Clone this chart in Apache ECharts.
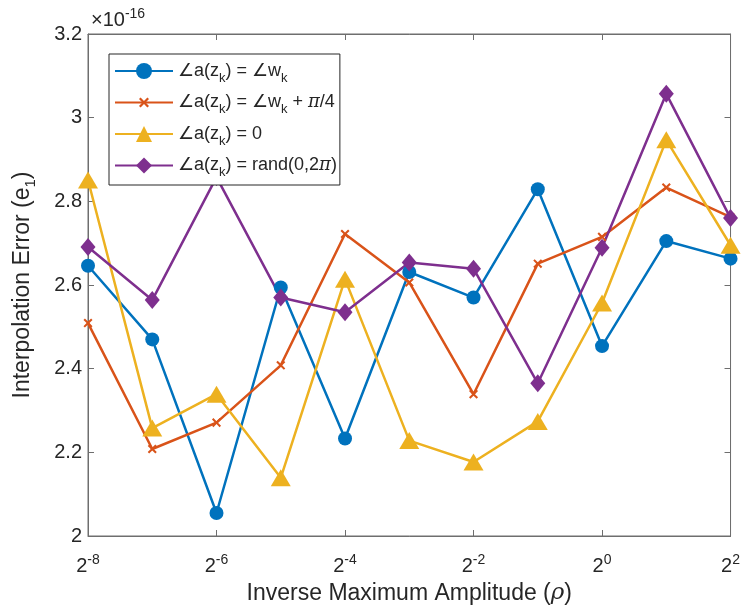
<!DOCTYPE html>
<html><head><meta charset="utf-8">
<script src="https://cdn.jsdelivr.net/npm/echarts@6/dist/echarts.min.js"></script>
<style>html,body{margin:0;padding:0;background:#fff}#c{width:743px;height:610px}</style>
</head><body><div id="c"></div>
<script>
// x positions as base-2 exponents of rho
var rhoExp = [-8, -7, -6, -5, -4, -3, -2, -1, 0, 1, 2];
// values in units of 1e-16
var angleW = [2.646, 2.470, 2.055, 2.594, 2.233, 2.631, 2.570, 2.829, 2.454, 2.705, 2.663];
var angleWpi4 = [2.509, 2.208, 2.271, 2.408, 2.722, 2.606, 2.339, 2.651, 2.715, 2.833, 2.762];
var angleZero = [2.851, 2.258, 2.339, 2.139, 2.614, 2.228, 2.177, 2.274, 2.557, 2.947, 2.695];
var angleRand = [2.691, 2.564, 2.858, 2.570, 2.535, 2.654, 2.639, 2.365, 2.689, 3.057, 2.760];
var seriesNames = [
  '{t|∠a(z}{s|k}{t|) = ∠w}{s|k}',
  '{t|∠a(z}{s|k}{t|) = ∠w}{s|k}{t| + }{i|π}{t|/4}',
  '{t|∠a(z}{s|k}{t|) = 0}',
  '{t|∠a(z}{s|k}{t|) = rand(0,2}{i|π}{t|)}'
];
var xTicks = [-8, -6, -4, -2, 0, 2];

var names = ['s1','s2','s3','s4'];
function pairs(v){ return rhoExp.map(function(x,i){ return [x, v[i]]; }); }
var textCol = '#262626';
var axisCol = '#6e6e6e';
// X-shaped marker with empty margins so it stays small inside its box
var xPath = 'path://M-3,-3 L-3,-3 Z M13,13 L13,13 Z M0,1.6 L1.6,0 L5,3.4 L8.4,0 L10,1.6 L6.6,5 L10,8.4 L8.4,10 L5,6.6 L1.6,10 L0,8.4 L3.4,5 Z';

var chart = echarts.init(document.getElementById('c'), null, {renderer:'canvas'});
var fontFam = 'Liberation Sans, Arial, sans-serif';
var option = {
  backgroundColor: '#fff',
  animation: false,
  textStyle: {fontFamily: fontFam},
  grid: {left: 88, right: 8, top: 34, bottom: 74, show: true, borderColor: axisCol, borderWidth: 1},
  legend: {
    orient: 'vertical', left: 109, top: 54,
    data: names,
    formatter: function(n){ return seriesNames[names.indexOf(n)]; },
    backgroundColor: '#fff', borderColor: textCol, borderWidth: 1,
    padding: [8, 3, 6, 5], itemWidth: 58, itemHeight: 20, itemGap: 9,
    textStyle: {
      color: textCol, fontSize: 18,
      rich: {
        t: {fontSize: 18, color: textCol, fontFamily: fontFam},
        i: {fontSize: 18, color: textCol, fontStyle: 'italic', fontFamily: 'DejaVu Serif'},
        s: {fontSize: 13, color: textCol, fontFamily: fontFam, padding: [14, 0, 0, 0]}
      }
    }
  },
  xAxis: [{
    type: 'value', min: -8, max: 2, interval: 2, position: 'bottom',
    axisLine: {show: true, onZero: false, lineStyle: {color: axisCol}},
    axisTick: {show: true, inside: true, length: 6, lineStyle: {color: axisCol}},
    splitLine: {show: false},
    axisLabel: {
      margin: 17,
      formatter: function(v){ return '{b|2}{s|' + v + '}'; },
      rich: {
        b: {fontSize: 20, color: textCol, fontFamily: fontFam},
        s: {fontSize: 14, color: textCol, fontFamily: fontFam, padding: [0, 0, 12, 0]}
      }
    },
    name: '{t|Inverse Maximum Amplitude (}{i|ρ}{t|)}', nameLocation: 'middle', nameGap: 46,
    nameTextStyle: {rich: {
      t: {fontSize: 23, color: textCol, fontFamily: fontFam},
      i: {fontSize: 23, color: textCol, fontStyle: 'italic', fontFamily: 'DejaVu Serif'}
    }}
  }, {
    type: 'value', min: -8, max: 2, interval: 2, position: 'top',
    axisLine: {show: true, onZero: false, lineStyle: {color: axisCol}},
    axisTick: {show: true, inside: true, length: 6, lineStyle: {color: axisCol}},
    axisLabel: {show: false}, splitLine: {show: false}
  }],
  yAxis: [{
    type: 'value', min: 2, max: 3.2, interval: 0.2, position: 'left',
    axisLine: {show: true, onZero: false, lineStyle: {color: axisCol}},
    axisTick: {show: true, inside: true, length: 6, lineStyle: {color: axisCol}},
    splitLine: {show: false},
    axisLabel: {fontSize: 20, color: textCol, margin: 6, fontFamily: fontFam},
    name: '{t|Interpolation Error (e}{s|1}{t|)}', nameLocation: 'middle', nameRotate: 90, nameGap: 50,
    nameTextStyle: {rich: {
      t: {fontSize: 23, color: textCol, fontFamily: fontFam},
      s: {fontSize: 15, color: textCol, fontFamily: fontFam, padding: [16, 0, 0, 0]}
    }}
  }, {
    type: 'value', min: 2, max: 3.2, interval: 0.2, position: 'right',
    axisLine: {show: true, onZero: false, lineStyle: {color: axisCol}},
    axisTick: {show: true, inside: true, length: 6, lineStyle: {color: axisCol}},
    axisLabel: {show: false}, splitLine: {show: false}
  }],
  graphic: [{
    type: 'text', left: 91, top: 7,
    style: {
      text: '{b|×10}{s|-16}',
      rich: {
        b: {fontSize: 20, fill: textCol, fontFamily: fontFam},
        s: {fontSize: 14, fill: textCol, fontFamily: fontFam, padding: [0, 0, 12, 0]}
      }
    }
  }],
  series: [
    {name: 's1', type: 'line', data: pairs(angleW), color: '#0072BD',
     lineStyle: {width: 2.5}, symbol: 'circle', symbolSize: 14, showAllSymbol: true},
    {name: 's2', type: 'line', data: pairs(angleWpi4), color: '#D95319',
     lineStyle: {width: 2.5}, symbol: xPath, symbolSize: 14.5, showAllSymbol: true},
    {name: 's3', type: 'line', data: pairs(angleZero), color: '#EDB120',
     lineStyle: {width: 2.5}, symbol: 'triangle', symbolSize: [20, 17], showAllSymbol: true},
    {name: 's4', type: 'line', data: pairs(angleRand), color: '#7E2F8E',
     lineStyle: {width: 2.5}, symbol: 'diamond', symbolSize: [15, 18], showAllSymbol: true}
  ]
};
chart.setOption(option);
</script>
</body></html>
